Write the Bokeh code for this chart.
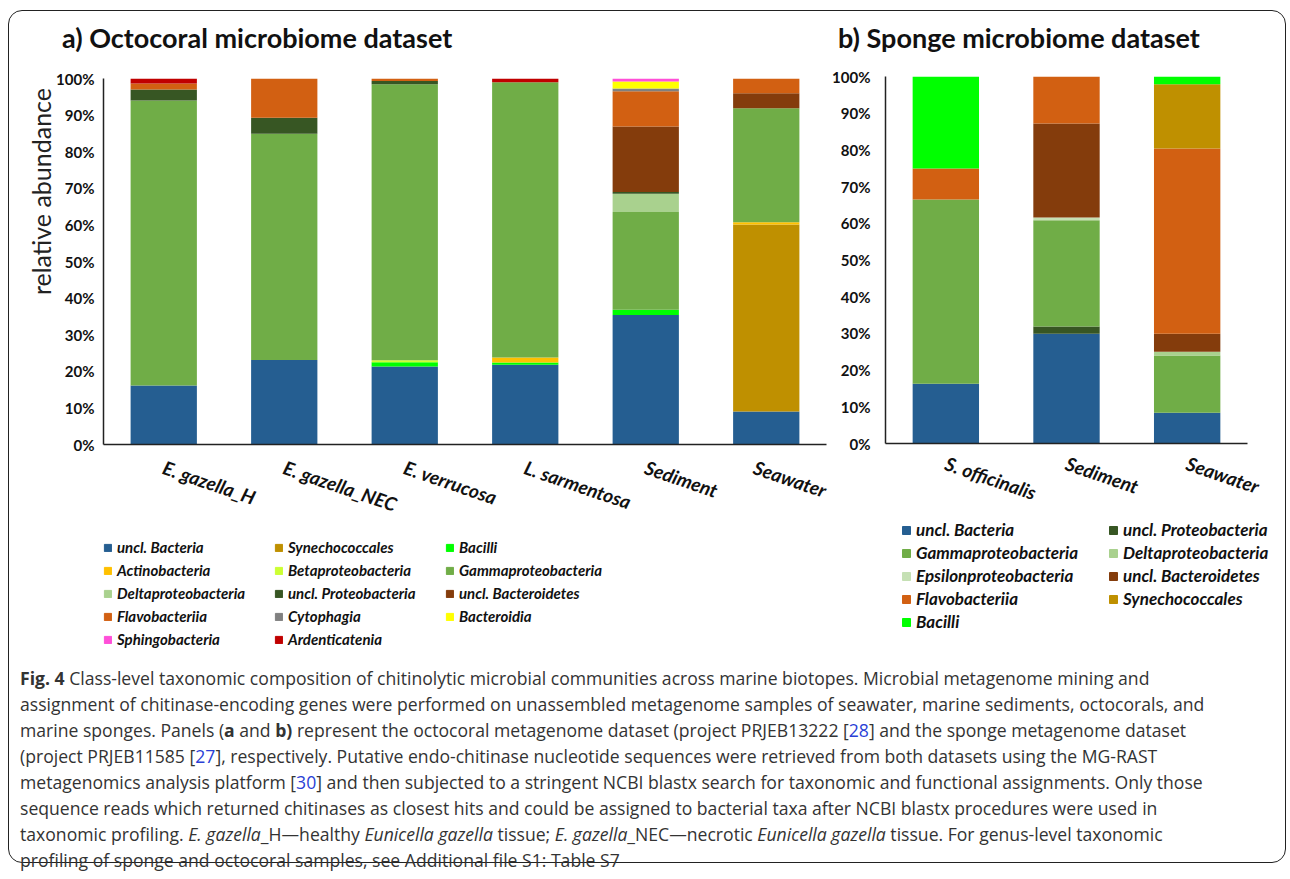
from bokeh.plotting import figure
from bokeh.models import (ColumnDataSource, FactorRange, Range1d, NumeralTickFormatter,
                          FixedTicker, Legend, LegendItem, Div)
from bokeh.layouts import column, row
from bokeh.embed import file_html
from bokeh.resources import INLINE

# ---------------- data: panel a (octocoral) ----------------
samples_a = ["E. gazella_H", "E. gazella_NEC", "E. verrucosa", "L. sarmentosa", "Sediment", "Seawater"]
classes_a = ["uncl. Bacteria", "Synechococcales", "Bacilli", "Actinobacteria", "Betaproteobacteria",
             "Gammaproteobacteria", "Deltaproteobacteria", "uncl. Proteobacteria", "uncl. Bacteroidetes",
             "Flavobacteriia", "Cytophagia", "Bacteroidia", "Sphingobacteria", "Ardenticatenia"]
uncl_bacteria_a = [16.1, 23.1, 21.3, 21.8, 35.4, 9.0]
synechococcales_a = [0, 0, 0, 0, 0, 51.1]
bacilli_a = [0, 0, 1.2, 0.6, 1.4, 0]
actinobacteria_a = [0, 0, 0, 1.4, 0, 0.6]
betaproteobacteria_a = [0, 0, 0.5, 0, 0, 0]
gammaproteobacteria_a = [77.9, 61.8, 75.4, 75.2, 26.7, 31.2]
deltaproteobacteria_a = [0, 0, 0, 0, 5.0, 0]
uncl_proteobacteria_a = [3.0, 4.4, 0.9, 0, 0.5, 0]
uncl_bacteroidetes_a = [0, 0, 0, 0, 17.9, 4.1]
flavobacteriia_a = [1.6, 10.7, 0.7, 0, 9.6, 4.0]
cytophagia_a = [0, 0, 0, 0, 0.8, 0]
bacteroidia_a = [0, 0, 0, 0, 1.9, 0]
sphingobacteria_a = [0, 0, 0, 0, 0.8, 0]
ardenticatenia_a = [1.4, 0, 0, 1.0, 0, 0]

# ---------------- data: panel b (sponge) ----------------
samples_b = ["S. officinalis", "Sediment", "Seawater"]
classes_b = ["uncl. Bacteria", "uncl. Proteobacteria", "Gammaproteobacteria", "Deltaproteobacteria",
             "Epsilonproteobacteria", "uncl. Bacteroidetes", "Flavobacteriia", "Synechococcales", "Bacilli"]
uncl_bacteria_b = [16.3, 29.9, 8.4]
uncl_proteobacteria_b = [0, 2.0, 0]
gammaproteobacteria_b = [50.2, 28.9, 15.6]
deltaproteobacteria_b = [0, 0, 1.0]
epsilonproteobacteria_b = [0, 0.8, 0]
uncl_bacteroidetes_b = [0, 25.6, 4.9]
flavobacteriia_b = [8.4, 12.8, 50.5]
synechococcales_b = [0, 0, 17.5]
bacilli_b = [25.1, 0, 2.1]

y_ticks = [0.0, 0.1, 0.2, 0.3, 0.4, 0.5, 0.6, 0.7, 0.8, 0.9, 1.0]

colors = {
    "uncl. Bacteria": "#255E91",
    "Synechococcales": "#BF9000",
    "Bacilli": "#00FF00",
    "Actinobacteria": "#FFC000",
    "Betaproteobacteria": "#CCFF33",
    "Gammaproteobacteria": "#70AD47",
    "Deltaproteobacteria": "#A9D18E",
    "Epsilonproteobacteria": "#C5E0B4",
    "uncl. Proteobacteria": "#375623",
    "uncl. Bacteroidetes": "#843C0C",
    "Flavobacteriia": "#D26012",
    "Cytophagia": "#808080",
    "Bacteroidia": "#FFFF00",
    "Sphingobacteria": "#FF4FD8",
    "Ardenticatenia": "#C00000",
}

series_a = [uncl_bacteria_a, synechococcales_a, bacilli_a, actinobacteria_a, betaproteobacteria_a,
            gammaproteobacteria_a, deltaproteobacteria_a, uncl_proteobacteria_a, uncl_bacteroidetes_a,
            flavobacteriia_a, cytophagia_a, bacteroidia_a, sphingobacteria_a, ardenticatenia_a]
series_b = [uncl_bacteria_b, uncl_proteobacteria_b, gammaproteobacteria_b, deltaproteobacteria_b,
            epsilonproteobacteria_b, uncl_bacteroidetes_b, flavobacteriia_b, synechococcales_b, bacilli_b]

FONT = "Lato"
TEXT = "#111111"


def blank_fig(width, height, left, top, right=0):
    f = figure(width=width, height=height, output_backend="svg", toolbar_location=None,
               x_axis_type=None, y_axis_type=None,
               x_range=Range1d(0, 1), y_range=Range1d(0, 1),
               min_border_left=left, min_border_top=top, min_border_right=right, min_border_bottom=0)
    f.title.visible = False
    f.xgrid.visible = False
    f.ygrid.visible = False
    f.outline_line_color = None
    return f


def make_panel(samples, classes, series, width, height, min_left, min_right, min_top,
               frame_h, tick_standoff, label_standoff):
    data = {"sample": samples}
    keys = []
    for i, (c, s) in enumerate(zip(classes, series)):
        k = "c%d" % i
        keys.append(k)
        data[k] = [v / 100.0 for v in s]
    src = ColumnDataSource(data)
    p = figure(x_range=FactorRange(*samples, range_padding=0), y_range=Range1d(0, 1),
               width=width, height=height, output_backend="svg", toolbar_location=None,
               min_border_left=min_left, min_border_right=min_right, min_border_top=min_top,
               min_border_bottom=height - min_top - frame_h)
    p.vbar_stack(keys, x="sample", width=0.55, source=src,
                 color=[colors[c] for c in classes], line_color=None)
    p.title.visible = False
    p.xgrid.visible = False
    p.ygrid.visible = False
    p.outline_line_color = None

    p.yaxis.ticker = FixedTicker(ticks=y_ticks)
    p.yaxis.formatter = NumeralTickFormatter(format="0%")
    p.yaxis.major_label_text_font = FONT
    p.yaxis.major_label_text_font_style = "bold"
    p.yaxis.major_label_text_font_size = "15px"
    p.yaxis.major_label_text_color = TEXT
    p.yaxis.major_label_standoff = tick_standoff
    p.yaxis.major_tick_out = 0
    p.yaxis.major_tick_in = 0
    p.yaxis.minor_tick_out = 0
    p.yaxis.minor_tick_in = 0
    p.yaxis.axis_line_color = "#222222"
    p.yaxis.axis_line_width = 1.5

    p.xaxis.major_label_orientation = -0.33
    p.xaxis.major_label_text_font = FONT
    p.xaxis.major_label_text_font_style = "bold italic"
    p.xaxis.major_label_text_font_size = "19px"
    p.xaxis.major_label_text_color = TEXT
    p.xaxis.major_label_standoff = label_standoff
    p.xaxis.major_tick_out = 0
    p.xaxis.major_tick_in = 0
    p.xaxis.axis_line_color = "#222222"
    p.xaxis.axis_line_width = 1.5
    return p


def make_legend(classes, width, height, left, top, right, ncols, label_width, font_size, glyph,
                label_h, spacing, padding):
    f = blank_fig(width, height, left, top, right)
    items = []
    for c in classes:
        r = f.vbar(x=[0.5], top=[float("nan")], width=0.1, color=colors[c])
        items.append(LegendItem(label=c, renderers=[r]))
    leg = Legend(items=items, ncols=ncols, location="top_left", orientation="horizontal",
                 label_text_font=FONT, label_text_font_style="bold italic",
                 label_text_font_size=font_size, label_text_color=TEXT,
                 glyph_width=glyph, glyph_height=glyph, label_standoff=5,
                 label_width=label_width, label_height=label_h, spacing=spacing,
                 border_line_color=None, background_fill_alpha=0,
                 margin=0, padding=padding)
    f.add_layout(leg, "center")
    return f


def title_div(text, width, left):
    return Div(text=("<div style=\"margin-left:%dpx; margin-top:11px; font-family: Lato, sans-serif; "
                     "font-weight: bold; font-size: 27px; line-height: 32px; color: #111111; "
                     "white-space: nowrap;\">%s</div>") % (left, text),
               width=width, height=48, margin=0)


# panel titles (row above the charts)
ta = title_div("a) Octocoral microbiome dataset", 820, 53)
tb = title_div("b) Sponge microbiome dataset", 456, 9)

# y-axis title strip (HTML text rotated to read bottom-to-top)
ylab = Div(text="<div style=\"writing-mode: vertical-rl; transform: rotate(180deg); "
                "margin-left: 19px; margin-top: 29px; "
                "font-family: Lato, sans-serif; font-size: 25px; line-height: 26px; "
                "color: #222222; white-space: nowrap;\">relative abundance</div>",
           width=44, height=596, margin=0)

# panel a: fig left 53 -> frame 103..826, frame top 78
pa = make_panel(samples_a, classes_a, series_a, 776, 472, 50, 3, 19, 366, 9, 22)
la = make_legend(classes_a, 776, 124, 50, 7, 3, 3, 152, "15px", 9, 17, 5, 10)

# panel b: fig left 829 -> frame 885..1247, frame top 76
pb = make_panel(samples_b, classes_b, series_b, 456, 460, 56, 38, 17, 367, 15, 19)
lb = make_legend(classes_b, 456, 136, 72, 0, 0, 2, 190, "17px", 10, 20, 2, 0)

caption_html = (
    "<b>Fig. 4</b> Class-level taxonomic composition of chitinolytic microbial communities across marine biotopes. "
    "Microbial metagenome mining and<br>"
    "assignment of chitinase-encoding genes were performed on unassembled metagenome samples of seawater, "
    "marine sediments, octocorals, and<br>"
    "marine sponges. Panels (<b>a</b> and <b>b)</b> represent the octocoral metagenome dataset (project PRJEB13222 "
    "[<span style='color:#2a3fd6'>28</span>] and the sponge metagenome dataset<br>"
    "(project PRJEB11585 [<span style='color:#2a3fd6'>27</span>], respectively. Putative endo-chitinase nucleotide "
    "sequences were retrieved from both datasets using the MG-RAST<br>"
    "metagenomics analysis platform [<span style='color:#2a3fd6'>30</span>] and then subjected to a stringent NCBI "
    "blastx search for taxonomic and functional assignments. Only those<br>"
    "sequence reads which returned chitinases as closest hits and could be assigned to bacterial taxa after NCBI "
    "blastx procedures were used in<br>"
    "taxonomic profiling. <i>E. gazella</i>_H\u2014healthy <i>Eunicella gazella</i> tissue; <i>E. gazella</i>_NEC"
    "\u2014necrotic <i>Eunicella gazella</i> tissue. For genus-level taxonomic<br>"
    "profiling of sponge and octocoral samples, see Additional file S1: Table S7"
)
cap = Div(text=caption_html, width=1265, height=207, margin=0,
          styles={"font-family": "'Open Sans', sans-serif",
                  "font-size": "17.6px", "line-height": "26px", "color": "#333333",
                  "padding-left": "11px", "padding-top": "10px"})

layout = column(row(ta, tb),
                row(ylab, column(pa, la), column(pb, row(lb))),
                cap,
                styles={"border": "1px solid #222222", "border-radius": "14px",
                        "background-color": "white", "margin-left": "8px", "margin-top": "10px"})

open("out.html", "w").write(file_html(layout, INLINE))
